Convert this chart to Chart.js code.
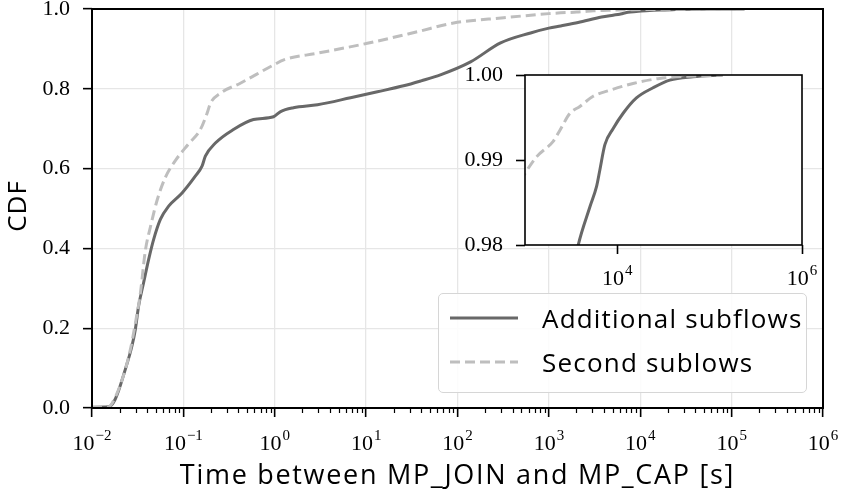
<!DOCTYPE html>
<html>
<head>
<meta charset="utf-8">
<script src="https://cdn.jsdelivr.net/npm/chart.js@4.4.1/dist/chart.umd.min.js"></script>
<style>
    body { margin: 0; background: #fff; }
    #wrap { position: relative; width: 841px; height: 495px; overflow: hidden; }
    #mainChart { position: absolute; left: 0; top: 0; }
    #insetChart { position: absolute; left: 440px; top: 55px; }
    #legend {
        position: absolute; left: 438px; top: 293px; width: 369px; height: 100px;
        box-sizing: border-box; border: 1.5px solid #d6d6d6; border-radius: 5px;
        background: rgba(255, 255, 255, 0.85); padding-top: 2px;
        font-family: "Open Sans", sans-serif; font-size: 26px; letter-spacing: 1.2px; color: #000;
    }
    .legendRow { display: flex; align-items: center; height: 44px; padding-left: 11px; }
    .legendRow svg { margin-right: 24px; }
</style>
</head>
<body>
<div id="wrap">
    <canvas id="mainChart" width="841" height="495"></canvas>
    <canvas id="insetChart" width="390" height="235"></canvas>
    <div id="legend"></div>
</div>
<script>
// Data (x in seconds, y = CDF)

const additionalX = [0.01, 0.0152, 0.018, 0.0232, 0.0274, 0.0298, 0.0324, 0.0367, 0.0417, 0.0473, 0.056, 0.069, 0.0968, 0.135, 0.160, 0.174, 0.224, 0.353, 0.585, 0.97, 1.16, 1.6, 2.94, 6.75, 13.3, 25.7, 40, 65, 139, 296, 631, 1000, 1345, 2090, 3770, 5050, 5960, 6460, 7330, 9020, 11560, 16100, 24400, 37000, 66000, 138000];
const additionalCdf = [0.002, 0.003, 0.0225, 0.0975, 0.156, 0.197, 0.256, 0.314, 0.3725, 0.4225, 0.4725, 0.506, 0.539, 0.581, 0.606, 0.631, 0.664, 0.698, 0.723, 0.73, 0.743, 0.7525, 0.76, 0.7775, 0.7925, 0.8075, 0.82, 0.835, 0.8675, 0.915, 0.94, 0.952, 0.9575, 0.966, 0.98, 0.9845, 0.9869, 0.9888, 0.9918, 0.9937, 0.9955, 0.9973, 0.9985, 0.9994, 0.9998, 1.0];

const secondX = [0.01, 0.015, 0.0166, 0.0213, 0.0262, 0.0298, 0.0338, 0.0384, 0.0435, 0.0515, 0.0635, 0.0817, 0.114, 0.153, 0.182, 0.198, 0.254, 0.42, 0.975, 1.256, 2.91, 10.3, 36.3, 90.6, 320, 1000, 1340, 2020, 2390, 3070, 3930, 5470, 8300, 14800, 28800, 139000];
const secondCdf = [0.001, 0.002, 0.012, 0.07, 0.145, 0.212, 0.287, 0.395, 0.453, 0.52, 0.578, 0.62, 0.662, 0.6975, 0.739, 0.764, 0.789, 0.814, 0.86, 0.8725, 0.889, 0.914, 0.943, 0.965, 0.978, 0.9884, 0.9904, 0.9922, 0.9935, 0.9955, 0.9963, 0.9975, 0.9982, 0.999, 0.9996, 1.0];

const seriesLabels = ["Additional subflows", "Second sublows"];

// axis settings
const mainXRange = [1e-2, 1e6];
const mainYTicks = [0, 0.2, 0.4, 0.6, 0.8, 1.0];
const insetXRange = [1e3, 1e6];
const insetXTicks = [1e4, 1e6];
const insetYTicks = [0.98, 0.99, 1.0];

const xTitle = "Time between MP_JOIN and MP_CAP [s]";
const yTitle = "CDF";

// styles
const lineColors = ["#686868", "#bebebe"];
const lineDashes = [[], [10, 5]];
const gridColor = "#e6e6e6";
const tickFont = { family: "'Liberation Serif', serif", size: 22 };
const tickFontCss = "22px 'Liberation Serif', serif";
const expFontCss = "15px 'Liberation Serif', serif";
const xTitleFontCss = "27px 'Open Sans', sans-serif";
const yTitleFontCss = "26px 'Open Sans', sans-serif";

function isDecade(value) {
    const e = Math.round(Math.log10(value));
    return Math.abs(value - Math.pow(10, e)) < value * 1e-9;
}

function exponentText(value) {
    return String(Math.round(Math.log10(value))).replace("-", "\u2212");
}

function makePoints(xs, ys) {
    return xs.map((x, i) => ({ x: x, y: ys[i] }));
}

function makeDatasets() {
    return [
        {
            label: seriesLabels[0],
            data: makePoints(additionalX, additionalCdf),
            borderColor: lineColors[0],
            borderWidth: 3,
            borderDash: lineDashes[0],
            order: 1
        },
        {
            label: seriesLabels[1],
            data: makePoints(secondX, secondCdf),
            borderColor: lineColors[1],
            borderWidth: 3,
            borderDash: lineDashes[1],
            order: 0
        }
    ];
}

function decadeTicks(lo, hi) {
    let ticks = [];
    for (let e = Math.round(Math.log10(lo)); e <= Math.round(Math.log10(hi)); e++) {
        ticks.push({ value: Math.pow(10, e), major: true });
    }
    return ticks;
}

function minorValues(lo, hi) {
    let values = [];
    for (let e = Math.round(Math.log10(lo)); e < Math.round(Math.log10(hi)); e++) {
        for (let m = 2; m <= 9; m++) values.push(m * Math.pow(10, e));
    }
    return values;
}

function noScalePadding(scale) {
    scale.paddingTop = 0;
    scale.paddingBottom = 0;
    scale.paddingLeft = 0;
    scale.paddingRight = 0;
}

// frame round the plot area, minor ticks, 10^n labels and axis titles
const framePlugin = {
    id: "frame",
    beforeDraw(chart, args, opts) {
        if (!opts.fill) return;
        const a = chart.chartArea;
        const ctx = chart.ctx;
        ctx.save();
        ctx.fillStyle = opts.fill;
        ctx.fillRect(a.left, a.top, a.right - a.left, a.bottom - a.top);
        ctx.restore();
    },
    afterDatasetsDraw(chart, args, opts) {
        const a = chart.chartArea;
        const ctx = chart.ctx;
        const xs = chart.scales.x;
        ctx.save();
        ctx.strokeStyle = "#000";
        ctx.fillStyle = "#000";
        if (opts.minor) {
            ctx.lineWidth = 1.2;
            ctx.beginPath();
            for (const v of minorValues(xs.min, xs.max)) {
                const px = Math.round(xs.getPixelForValue(v)) + 0.5;
                ctx.moveTo(px, a.bottom);
                ctx.lineTo(px, a.bottom + 5);
            }
            ctx.stroke();
        }
        ctx.lineWidth = opts.width;
        ctx.strokeRect(a.left, a.top, a.right - a.left, a.bottom - a.top);

        // decade labels with a raised exponent
        ctx.textBaseline = "alphabetic";
        ctx.textAlign = "left";
        for (const tick of xs.ticks) {
            if (!isDecade(tick.value)) continue;
            const px = xs.getPixelForValue(tick.value);
            const expText = exponentText(tick.value);
            ctx.font = tickFontCss;
            const baseW = ctx.measureText("10").width;
            ctx.font = expFontCss;
            const expW = ctx.measureText(expText).width;
            const start = px - (baseW + 1 + expW) / 2;
            ctx.font = tickFontCss;
            ctx.fillText("10", start, a.bottom + opts.labelBase);
            ctx.font = expFontCss;
            ctx.fillText(expText, start + baseW + 1, a.bottom + opts.labelBase - 10);
        }

        if (opts.titles) {
            ctx.textAlign = "center";
            ctx.font = xTitleFontCss;
            ctx.letterSpacing = "1.7px";
            ctx.fillText(xTitle, (a.left + a.right) / 2, 484);
            ctx.font = yTitleFontCss;
            ctx.letterSpacing = "1px";
            ctx.translate(26, 206);
            ctx.rotate(-Math.PI / 2);
            ctx.fillText(yTitle, 0, 0);
        }
        ctx.restore();
    }
};

function createMainChart() {
    return new Chart(document.querySelector("#mainChart"), {
        type: "line",
        data: { datasets: makeDatasets() },
        plugins: [framePlugin],
        options: {
            responsive: false,
            animation: false,
            elements: { point: { radius: 0 }, line: { cubicInterpolationMode: "monotone" } },
            layout: { padding: { top: 9, right: 18, left: 0, bottom: 0 } },
            plugins: {
                legend: { display: false },
                tooltip: { enabled: false },
                frame: { width: 2, minor: true, labelBase: 42, titles: true }
            },
            scales: {
                x: {
                    type: "logarithmic",
                    min: mainXRange[0],
                    max: mainXRange[1],
                    afterBuildTicks: (scale) => { scale.ticks = decadeTicks(mainXRange[0], mainXRange[1]); },
                    afterFit: (scale) => { scale.height = 87; noScalePadding(scale); },
                    border: { display: false },
                    grid: { color: gridColor, lineWidth: 1.3, tickLength: 9, tickColor: "#000", tickWidth: 1.6 },
                    ticks: { display: false, autoSkip: false, maxRotation: 0 }
                },
                y: {
                    type: "linear",
                    min: 0,
                    max: 1,
                    afterBuildTicks: (scale) => { scale.ticks = mainYTicks.map((v) => ({ value: v })); },
                    afterFit: (scale) => { scale.width = 92; noScalePadding(scale); },
                    border: { display: false },
                    grid: { color: gridColor, lineWidth: 1.3, tickLength: 9, tickColor: "#000", tickWidth: 1.6 },
                    ticks: { padding: 13, color: "#000", font: tickFont, callback: (value) => value.toFixed(1) }
                }
            }
        }
    });
}

function createInsetChart() {
    return new Chart(document.querySelector("#insetChart"), {
        type: "line",
        data: { datasets: makeDatasets() },
        plugins: [framePlugin],
        options: {
            responsive: false,
            animation: false,
            elements: { point: { radius: 0 }, line: { cubicInterpolationMode: "monotone" } },
            layout: { padding: { top: 20, right: 28, left: 0, bottom: 0 } },
            plugins: {
                legend: { display: false },
                tooltip: { enabled: false },
                frame: { width: 1.6, minor: false, fill: "#fff", labelBase: 40, titles: false }
            },
            scales: {
                x: {
                    type: "logarithmic",
                    min: insetXRange[0],
                    max: insetXRange[1],
                    afterBuildTicks: (scale) => { scale.ticks = insetXTicks.map((v) => ({ value: v })); },
                    afterFit: (scale) => { scale.height = 45; noScalePadding(scale); },
                    border: { display: false },
                    grid: { drawOnChartArea: false, tickLength: 9, tickColor: "#000", tickWidth: 1.6 },
                    ticks: { display: false, autoSkip: false, maxRotation: 0 }
                },
                y: {
                    type: "linear",
                    min: 0.98,
                    max: 1.0,
                    afterBuildTicks: (scale) => { scale.ticks = insetYTicks.map((v) => ({ value: v })); },
                    afterFit: (scale) => { scale.width = 85; noScalePadding(scale); },
                    border: { display: false },
                    grid: { drawOnChartArea: false, tickLength: 9, tickColor: "#000", tickWidth: 1.6 },
                    ticks: { padding: 13, color: "#000", font: tickFont, callback: (value) => value.toFixed(2) }
                }
            }
        }
    });
}

function showLegend(datasets) {
    const legend = document.querySelector("#legend");
    for (const ds of datasets) {
        const row = document.createElement("div");
        row.className = "legendRow";
        const dash = ds.borderDash.length ? ` stroke-dasharray="${ds.borderDash.join(" ")}"` : "";
        row.innerHTML = `<svg width="68" height="10"><line x1="0" y1="5" x2="68" y2="5" stroke="${ds.borderColor}" stroke-width="${ds.borderWidth}"${dash}/></svg>`;
        const text = document.createElement("span");
        text.textContent = ds.label;
        row.appendChild(text);
        legend.appendChild(row);
    }
}

const mainChart = createMainChart();
const insetChart = createInsetChart();
showLegend(makeDatasets());
</script>
</body>
</html>
